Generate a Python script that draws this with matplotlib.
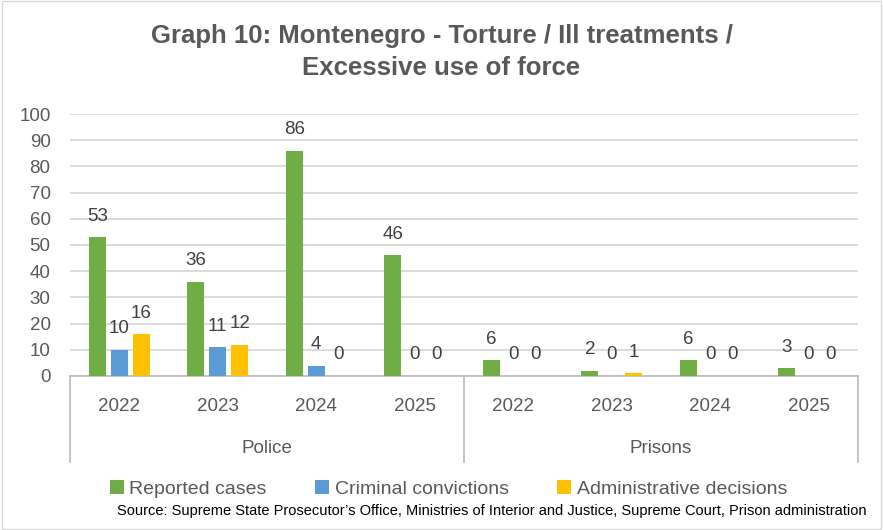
import matplotlib.pyplot as plt
import matplotlib.transforms as mtransforms
import numpy as np

groups = ["Police", "Prisons"]
years = ["2022", "2023", "2024", "2025", "2022", "2023", "2024", "2025"]
reported = [53, 36, 86, 46, 6, 2, 6, 3]
criminal = [10, 11, 4, 0, 0, 0, 0, 0]
administrative = [16, 12, 0, 0, 0, 1, 0, 0]
series_names = ["Reported cases", "Criminal convictions", "Administrative decisions"]
colors = ["#70AD47", "#5B9BD5", "#FFC000"]

txt = "#595959"
plt.rcParams["font.family"] = ["Liberation Sans", "DejaVu Sans"]

fig = plt.figure(figsize=(8.83, 5.30), dpi=100)
ax = fig.add_axes([0.0793, 0.2906, 0.8924, 0.4943])

x = np.arange(len(years))
step, width = 0.223, 0.173
handles = []
for i, (vals, name, c) in enumerate(zip([reported, criminal, administrative], series_names, colors)):
    bars = ax.bar(x + (i - 1) * step, vals, width, color=c, label=name, zorder=3)
    handles.append(bars)
    for b, v in zip(bars, vals):
        ax.annotate(str(v), (b.get_x() + b.get_width() / 2, b.get_height()),
                    xytext=(0, 9), textcoords="offset points", ha="center", va="bottom",
                    fontsize=13.5, color="#404040")

ax.set_xlim(-0.5, 7.5)
ax.set_ylim(0, 100)
ax.set_yticks(range(0, 101, 10))
ax.yaxis.grid(True, color="#D9D9D9", linewidth=1.3, zorder=0)
ax.set_axisbelow(True)
for s in ["top", "right", "left"]:
    ax.spines[s].set_visible(False)
ax.spines["bottom"].set_color("#BFBFBF")
ax.spines["bottom"].set_linewidth(1.3)
ax.tick_params(axis="y", length=0, labelsize=13.5, labelcolor=txt, pad=14)
ax.set_xticks(x)
ax.set_xticklabels(years, fontsize=13.5, color=txt)
ax.tick_params(axis="x", length=0, pad=16)

trans = mtransforms.blended_transform_factory(ax.transData, ax.transAxes)
for xv in [-0.5, 3.5, 7.5]:
    ax.plot([xv, xv], [0, -0.328], transform=trans, color="#BFBFBF", lw=1.3, clip_on=False)
for gi, g in enumerate(groups):
    ax.text(gi * 4 + 1.5, -0.275, g, transform=trans, ha="center", va="center",
            fontsize=13.5, color=txt)

fig.suptitle("Graph 10: Montenegro - Torture / Ill treatments /\nExcessive use of force",
             x=0.5, y=0.955, fontsize=18.5, fontweight="bold", color=txt, linespacing=1.45)

fig.legend(handles=handles, loc="center", bbox_to_anchor=(0.508, 0.077), ncol=3,
           frameon=False, handlelength=0.7, handleheight=0.7, handletextpad=0.3,
           columnspacing=2.5, prop={"size": 14}, labelcolor=txt)

fig.text(0.981, 0.035, "Source: Supreme State Prosecutor\u2019s Office, Ministries of Interior and Justice, Supreme Court, Prison administration",
         ha="right", va="center", fontsize=10.5, color="black")

fig.patches.append(plt.Rectangle((0.002, 0.002), 0.996, 0.996, transform=fig.transFigure,
                                 fill=False, edgecolor="#D9D9D9", lw=1))

fig.savefig("out.png", dpi=100)
